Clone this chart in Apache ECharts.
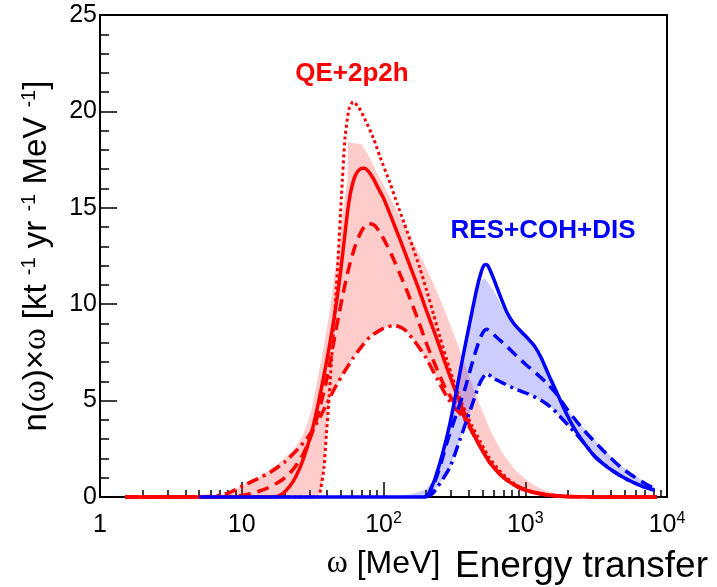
<!DOCTYPE html>
<html>
<head>
<meta charset="utf-8">
<script src="https://cdn.jsdelivr.net/npm/echarts@6/dist/echarts.min.js"></script>
<style>
  html, body { margin: 0; padding: 0; background: #fff; }
  #chart { width: 717px; height: 587px; }
</style>
</head>
<body>
<div id="chart"></div>
<script>
// Energy-transfer spectra n(ω)×ω, pairs are [ω in MeV, value]

// QE+2p2h variants
const qeSolid = [[1.5,0],[10,0],[16,0],[18,0.05],[20,0.25],[23,0.8],[26,1.6],[29,2.6],[32,3.7],[35,5.0],[38,6.3],[41,7.6],[44,8.9],[47,10.3],[50,11.8],[53,13.4],[56,14.9],[59,15.9],[63,16.65],[68,17.0],[73,17.05],[78,16.9],[85,16.5],[92,16.0],[100,15.5],[115,14.4],[130,13.4],[150,12.2],[175,10.9],[200,9.7],[230,8.5],[265,7.2],[300,6.1],[350,4.8],[400,3.8],[450,3.0],[500,2.4],[560,1.8],[650,1.25],[750,0.85],[900,0.5],[1100,0.27],[1400,0.12],[1800,0.04],[2500,0.01],[3500,0],[8500,0]];
const qeDotted = [[1.5,0],[34.5,0],[36,0.4],[38,1.5],[39.5,3.2],[41,4.8],[42.5,6.5],[44,8.2],[46,10.3],[48,12.6],[50.5,15.6],[53.5,18.6],[57,20.1],[61,20.5],[67,20.2],[75,19.5],[85,18.6],[95,17.6],[111,16.3],[125,15.2],[140,14.2],[160,13.0],[180,11.9],[200,10.8],[225,9.5],[250,8.3],[280,7.1],[320,5.8],[360,4.8],[420,3.7],[480,2.9],[550,2.1],[650,1.4],[750,0.95],[900,0.55],[1100,0.3],[1400,0.13],[1800,0.05],[2500,0.01],[3500,0],[8500,0]];
const qeDashed = [[1.5,0],[8,0.02],[10,0.08],[12,0.2],[15,0.45],[18,0.75],[21,1.1],[24,1.6],[27,2.2],[30,2.95],[33,3.8],[36,4.8],[39,5.8],[42,7.0],[45,8.2],[48,9.3],[52,10.6],[57,11.9],[63,13.0],[70,13.8],[78,14.2],[86,14.1],[95,13.7],[105,13.1],[115,12.5],[130,11.6],[150,10.5],[175,9.2],[200,8.0],[230,6.9],[265,5.85],[300,5.15],[350,4.5],[400,3.7],[450,3.0],[500,2.4],[560,1.8],[650,1.25],[750,0.85],[900,0.5],[1100,0.27],[1400,0.12],[1800,0.04],[2500,0.01],[3500,0],[8500,0]];
const qeDashDot = [[1.5,0],[6,0.02],[8,0.2],[10,0.55],[13,0.95],[16,1.3],[20,1.8],[25,2.5],[30,3.2],[36,4.2],[45,5.6],[52,6.4],[61,7.2],[70,7.8],[80,8.3],[100,8.75],[120,8.9],[140,8.7],[165,8.1],[200,7.2],[240,6.1],[280,5.2],[320,4.6],[360,4.2],[400,3.7],[450,3.0],[500,2.4],[560,1.8],[650,1.25],[750,0.85],[900,0.5],[1100,0.27],[1400,0.12],[1800,0.04],[2500,0.01],[3500,0],[8500,0]];
const qeBandUpper = [[7,0],[8,0.2],[10,0.6],[13,1.0],[16,1.45],[20,2.0],[24,2.6],[27,3.2],[29,3.8],[31,4.5],[34,6.0],[37.5,7.6],[41,9.3],[44,10.9],[47,12.4],[50,14.0],[53.5,15.6],[55.8,16.5],[56,18.4],[70,18.3],[80,17.6],[90,16.8],[110,15.6],[135,14.3],[165,13.1],[200,11.9],[240,10.6],[280,9.4],[330,8.0],[400,6.3],[480,4.75],[580,3.3],[700,2.2],[850,1.4],[1050,0.8],[1300,0.4],[1700,0.15],[2200,0.05],[3000,0]];
const qeBandLower = [[7,0],[34.5,0],[36,0.4],[38,1.5],[39.5,3.2],[41.5,5.0],[45,5.6],[52,6.4],[61,7.2],[70,7.8],[80,8.3],[100,8.75],[120,8.9],[140,8.7],[165,8.1],[200,7.2],[240,6.1],[280,5.2],[320,4.6],[360,4.2],[400,3.7],[450,3.0],[500,2.4],[560,1.8],[650,1.25],[750,0.85],[900,0.5],[1100,0.27],[1400,0.12],[1800,0.04],[2200,0.01],[3000,0]];

// RES+COH+DIS variants
const resSolid = [[5,0],[195,0],[205,0.1],[215,0.4],[230,0.9],[262,2.3],[295,3.85],[329,5.6],[364,7.3],[405,9.0],[455,10.8],[490,11.7],[510,12.0],[527,12.06],[545,12.0],[570,11.7],[600,11.3],[660,10.5],[740,9.6],[830,9.0],[930,8.6],[1050,8.2],[1170,7.8],[1300,7.2],[1450,6.4],[1650,5.5],[1900,4.5],[2200,3.6],[2600,2.8],[3100,2.1],[3800,1.55],[4700,1.1],[5800,0.75],[7000,0.5],[8200,0.35]];
const resDashed = [[195,0],[212,0.2],[230,0.8],[250,1.56],[285,3.0],[330,4.4],[375,5.6],[428,7.1],[478,8.2],[510,8.6],[535,8.7],[570,8.6],[625,8.3],[720,7.9],[820,7.5],[1000,6.9],[1200,6.4],[1400,5.95],[1660,5.35],[2000,4.5],[2500,3.6],[3100,2.85],[3900,2.1],[4800,1.5],[6000,1.0],[7200,0.65],[8200,0.45]];
const resDashDot = [[200,0],[223,0.2],[250,0.7],[295,1.56],[347,3.0],[405,4.4],[478,5.9],[535,6.4],[600,6.15],[700,5.9],[850,5.6],[1050,5.35],[1300,5.0],[1550,4.6],[1800,4.1],[2050,3.65],[2300,3.25],[2600,2.8],[3100,2.1],[3800,1.55],[4700,1.1],[5800,0.75],[7000,0.5],[8200,0.38]];
const resBandUpper = [[120,0],[160,0.15],[200,0.4],[230,0.95],[262,2.3],[295,3.9],[329,5.6],[364,7.3],[405,9.0],[455,10.7],[495,11.25],[520,11.35],[560,11.0],[600,10.7],[660,10.1],[740,9.4],[830,8.85],[930,8.5],[1050,8.15],[1170,7.75],[1300,7.15],[1450,6.4],[1650,5.5],[1900,4.8],[2200,4.1],[2500,3.7],[3100,2.95],[3900,2.2],[4800,1.6],[6000,1.1],[7200,0.72],[8200,0.5]];
const resBandLower = [[120,0],[210,0],[223,0.2],[250,0.7],[295,1.56],[347,3.0],[405,4.4],[478,5.9],[535,6.4],[600,6.15],[700,5.9],[850,5.6],[1050,5.35],[1300,5.0],[1550,4.6],[1800,4.1],[2050,3.65],[2300,3.25],[2600,2.8],[3100,2.1],[3800,1.55],[4700,1.1],[5800,0.75],[7000,0.5],[8200,0.35]];

// axis ticks and labels
const xTickLabels = ['1', '10', '10{s|2}', '10{s|3}', '10{s|4}'];
const xMinorMultipliers = [2, 3, 4, 5, 6, 7, 8, 9];
const xDecades = [1, 10, 100, 1000];

const RED = '#ff0000';
const BLUE = '#0000ff';
const SANS = '"Liberation Sans", Arial, sans-serif';
const SERIF = '"Liberation Serif", "Times New Roman", serif';

// minor ticks of the log axis, placed on a companion linear axis in decades
const minorTickPositions = [];
xDecades.forEach(d => xMinorMultipliers.forEach(m => minorTickPositions.push(Math.log10(d * m))));

function bandSeries(upper, lower, fill) {
  return {
    type: 'custom',
    data: [[upper[0][0], 0]],
    silent: true,
    renderItem: function (params, api) {
      const outline = upper.concat(lower.slice().reverse());
      const points = outline.map(p => api.coord(p));
      return { type: 'polygon', shape: { points: points }, style: { fill: fill } };
    }
  };
}

function curve(data, color, dash, width) {
  return {
    type: 'line',
    data: data,
    showSymbol: false,
    symbol: 'none',
    smooth: 0.2,
    clip: false,
    lineStyle: { color: color, width: width, type: dash, cap: 'butt', join: 'round' }
  };
}

const chart = echarts.init(document.getElementById('chart'), null, { renderer: 'canvas' });

chart.setOption({
  animation: false,
  backgroundColor: '#fff',
  grid: { left: 100, right: 50, top: 15, bottom: 90, show: true, borderColor: '#000', borderWidth: 2 },
  xAxis: [
    {
      type: 'log', logBase: 10, min: 1, max: 10000, position: 'bottom',
      axisLine: { show: true, lineStyle: { color: '#000', width: 2 } },
      axisTick: { show: true, inside: true, length: 15, lineStyle: { color: '#000', width: 1.5 } },
      splitLine: { show: false },
      axisLabel: {
        color: '#000', fontFamily: SANS, fontSize: 25, lineHeight: 28, margin: 14,
        showMinLabel: true, showMaxLabel: true,
        formatter: function (value, index) { return xTickLabels[index]; },
        rich: { s: { fontSize: 16, lineHeight: 16, verticalAlign: 'top', fontFamily: SANS, color: '#000' } }
      },
      name: '{w|ω} [MeV]',
      nameLocation: 'middle',
      nameGap: 51,
      nameTextStyle: {
        color: '#000', fontFamily: SANS, fontSize: 32,
        rich: { w: { fontFamily: SERIF, fontSize: 32, color: '#000' } }
      }
    },
    {
      type: 'value', min: 0, max: 4, position: 'bottom',
      axisLine: { show: false },
      axisLabel: { show: false },
      splitLine: { show: false },
      axisTick: { show: true, inside: true, length: 7, customValues: minorTickPositions, lineStyle: { color: '#000', width: 1.5 } }
    }
  ],
  yAxis: {
    type: 'value', min: 0, max: 25, interval: 5,
    axisLine: { show: true, lineStyle: { color: '#000', width: 2 } },
    axisTick: { show: true, inside: true, length: 17, lineStyle: { color: '#000', width: 1.5 } },
    minorTick: { show: true, splitNumber: 5, length: 9, lineStyle: { color: '#000', width: 1.5 } },
    splitLine: { show: false },
    minorSplitLine: { show: false },
    axisLabel: { color: '#000', fontFamily: SANS, fontSize: 25, margin: 3 },
    name: 'n({w|ω})×{w|ω} [kt {s|-1} yr {s|-1} MeV {s|-1}]',
    nameLocation: 'middle',
    nameRotate: 90,
    nameGap: 46,
    nameTextStyle: {
      color: '#000', fontFamily: SANS, fontSize: 33, lineHeight: 35,
      rich: {
        w: { fontFamily: SERIF, fontSize: 33, lineHeight: 35, color: '#000' },
        s: { fontFamily: SANS, fontSize: 20, lineHeight: 20, verticalAlign: 'top', color: '#000' }
      }
    }
  },
  graphic: [
    {
      type: 'text', x: 352, y: 74, silent: true,
      style: { text: 'QE+2p2h', font: 'bold 26px ' + SANS, fill: RED, align: 'center', verticalAlign: 'middle', textAlign: 'center', textVerticalAlign: 'middle' }
    },
    {
      type: 'text', x: 543, y: 231, silent: true,
      style: { text: 'RES+COH+DIS', font: 'bold 26px ' + SANS, fill: BLUE, align: 'center', verticalAlign: 'middle', textAlign: 'center', textVerticalAlign: 'middle' }
    },
    {
      type: 'text', x: 455, y: 567, silent: true,
      style: { text: 'Energy transfer', font: '37px ' + SANS, fill: '#000', align: 'left', verticalAlign: 'middle', textAlign: 'left', textVerticalAlign: 'middle' }
    }
  ],
  series: [
    bandSeries(qeBandUpper, qeBandLower, 'rgba(255,0,0,0.2)'),
    bandSeries(resBandUpper, resBandLower, 'rgba(0,0,255,0.2)'),
    curve(qeDotted, RED, [3, 3], 3),
    curve(qeDashDot, RED, [12, 5, 3, 5], 3.5),
    curve(qeDashed, RED, [12, 7], 3.5),
    curve(qeSolid, RED, 'solid', 3.5),
    curve(resDashDot, BLUE, [12, 5, 3, 5], 3.5),
    curve(resDashed, BLUE, [12, 7], 3.5),
    curve(resSolid, BLUE, 'solid', 3.5)
  ]
});
</script>
</body>
</html>
